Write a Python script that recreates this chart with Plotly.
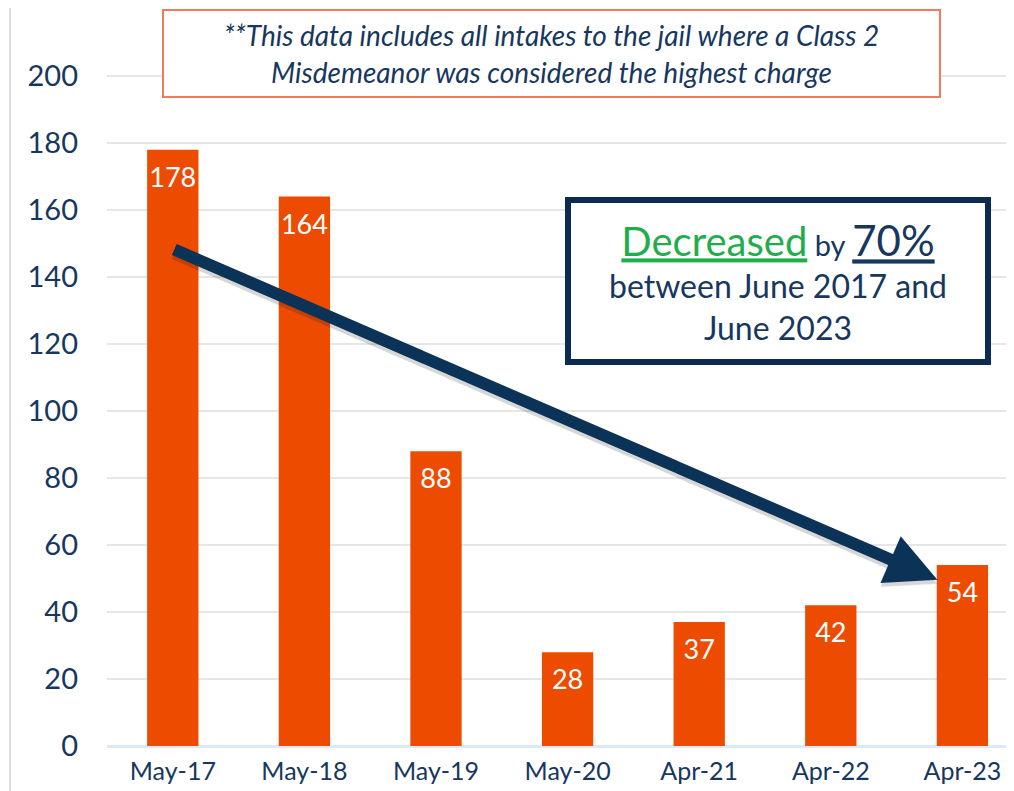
import plotly.graph_objects as go

# data
months = ["May-17", "May-18", "May-19", "May-20", "Apr-21", "Apr-22", "Apr-23"]
intakes = [178, 164, 88, 28, 37, 42, 54]
y_ticks = [0, 20, 40, 60, 80, 100, 120, 140, 160, 180, 200]

note_text = ("**This data includes all intakes to the jail where a Class 2<br>"
             "Misdemeanor was considered the highest charge")

navy = "#17375e"
bar_color = "#ec4b00"
font_family = "Lato, 'Open Sans', sans-serif"

# page has an 8px body margin, so the figure is drawn 8px smaller
W, H = 1006, 783
L, T, B = 99, 52, 45
pw, ph = W - L, H - T - B

idx = list(range(len(months)))

fig = go.Figure()
fig.add_trace(go.Bar(
    x=idx, y=intakes, width=0.39,
    marker=dict(color=bar_color, line=dict(width=0)),
    hoverinfo="skip",
))
# value labels inside the bars, a little under each top
fig.add_trace(go.Scatter(
    x=idx, y=[v - 9 for v in intakes], mode="text",
    text=[str(v) for v in intakes],
    textfont=dict(color="white", size=27, family=font_family),
    hoverinfo="skip",
))

fig.update_layout(
    width=W, height=H,
    margin=dict(l=L, r=0, t=T, b=B),
    plot_bgcolor="white", paper_bgcolor="white",
    showlegend=False,
    font=dict(family=font_family, color=navy),
)
fig.update_xaxes(
    tickmode="array", tickvals=idx, ticktext=months,
    range=[-0.5, -0.5 + pw / 131.6], showgrid=False, zeroline=False, showline=False,
    tickfont=dict(size=25, color=navy), ticks="", ticklabelstandoff=8,
)
fig.update_yaxes(
    tickmode="array", tickvals=y_ticks, range=[0, ph / 3.35],
    showgrid=True, gridcolor="#e6e6e6", gridwidth=2,
    zeroline=True, zerolinecolor="#dce9f6", zerolinewidth=3,
    showline=False, ticks="", ticklabelstandoff=28,
    tickfont=dict(size=29, color=navy),
)

# thin frame line at far left
fig.add_shape(type="line", xref="paper", yref="paper",
              x0=-(L - 2) / pw, x1=-(L - 2) / pw, y0=-0.1, y1=1.1,
              line=dict(color="#dcdcdc", width=2))

# note box at top
fig.add_annotation(
    xref="paper", yref="paper", x=(551 - 8 - L) / pw, y=(ph + T - (53 - 8)) / ph,
    xanchor="center", yanchor="middle",
    text=note_text, showarrow=False, align="center",
    font=dict(size=28, color=navy, family=font_family, style="italic"),
    bordercolor="#f07a5a", borderwidth=2, bgcolor="white",
    width=773, height=83,
)

# trend arrow (shadow then arrow)
fig.add_annotation(
    x=5.81, y=48.4, ax=0.0, ay=147.2, xref="x", yref="y", axref="x", ayref="y",
    text="", showarrow=True, arrowhead=2, arrowsize=0.85, arrowwidth=12,
    arrowcolor="rgba(0,0,0,0.16)",
)
fig.add_annotation(
    x=5.81, y=49.6, ax=0.0, ay=148.4, xref="x", yref="y", axref="x", ayref="y",
    text="", showarrow=True, arrowhead=2, arrowsize=0.85, arrowwidth=12,
    arrowcolor="#0b3358",
)

# callout box
callout = ("<span style='color:#1fae4b;font-size:40px'><u>Decreased</u></span>"
           "<span style='font-size:29px'> by </span>"
           "<span style='font-size:42px'><u>70%</u></span><br>"
           "between June 2017 and<br>June 2023")
fig.add_annotation(
    xref="paper", yref="paper", x=(778 - 8 - L) / pw, y=(ph + T - (281 - 8)) / ph,
    xanchor="center", yanchor="middle",
    text=callout, showarrow=False, align="center",
    font=dict(size=32, color=navy, family=font_family),
    bordercolor="#0d2b4e", borderwidth=6, bgcolor="white",
    width=412, height=154,
)

fig.write_html("out.html")
